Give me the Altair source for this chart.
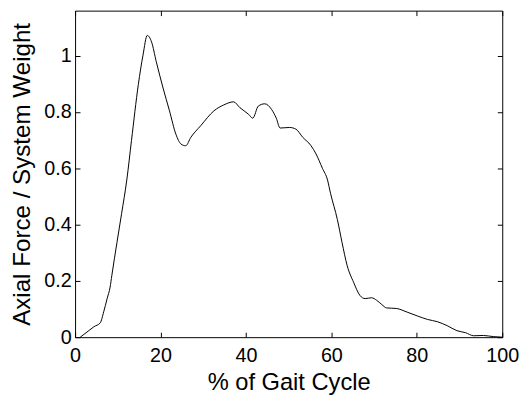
import altair as alt
import pandas as pd

# % of gait cycle (x) and axial force / system weight (y)
gait_pct = [1.2, 3.2, 4.4, 5.9, 6.7, 7.5, 8.2, 8.6, 9.8, 10.9, 12.1, 13.2, 14.8, 15.9,
            16.9, 17.9, 19.0, 20.6, 22.1, 23.6, 24.8, 25.9, 27.1, 29.4, 32.5, 34.8,
            37.1, 38.6, 40.6, 41.6, 42.9, 44.4, 46.0, 47.1, 48.0, 50.2, 51.7, 53.3,
            55.2, 56.4, 57.9, 59.1, 59.8, 61.4, 62.5, 63.7, 65.2, 66.7, 67.9, 69.4,
            70.6, 71.8, 72.9, 75.2, 77.9, 80.2, 82.5, 84.8, 87.1, 89.4, 91.4, 93.3,
            95.6, 97.9, 100.0]
force_ratio = [0.0, 0.023, 0.037, 0.051, 0.09, 0.137, 0.178, 0.219, 0.336, 0.44, 0.558,
               0.698, 0.897, 1.002, 1.072, 1.049, 0.979, 0.885, 0.804, 0.721, 0.686,
               0.68, 0.71, 0.751, 0.804, 0.825, 0.836, 0.815, 0.792, 0.778, 0.821,
               0.829, 0.809, 0.778, 0.743, 0.745, 0.739, 0.71, 0.681, 0.651, 0.60,
               0.558, 0.511, 0.418, 0.336, 0.254, 0.195, 0.148, 0.137, 0.14, 0.131,
               0.116, 0.104, 0.102, 0.088, 0.075, 0.063, 0.055, 0.041, 0.023, 0.016,
               0.005, 0.006, 0.002, 0.0]

x_ticks = [0, 20, 40, 60, 80, 100]
y_ticks = [0, 0.2, 0.4, 0.6, 0.8, 1.0]

W, H = 433, 331
TICK = 5
X_TITLE = "% of Gait Cycle"
Y_TITLE = "Axial Force / System Weight"

df = pd.DataFrame({"pct": gait_pct, "force": force_ratio})

FONT = "Liberation Sans"
# axes pulled inside the frame by the tick length so ticks point inward
inward = dict(grid=False, ticks=True, tickSize=TICK, tickColor="black", tickWidth=1,
              domain=False, offset=-TICK)

x_scale = alt.Scale(domain=[0, 100], nice=False, zero=False)
y_scale = alt.Scale(domain=[0, 1.16], nice=False)

main = alt.Chart(df).mark_line(color="black", strokeWidth=1, interpolate="monotone").encode(
    x=alt.X("pct:Q", scale=x_scale, title=X_TITLE,
            axis=alt.Axis(orient="bottom", values=x_ticks, labelFontSize=20, labelFont=FONT,
                          labelColor="black", labelPadding=25, labelBaseline="alphabetic",
                          labelFlush=False, labelOverlap=False, labelBound=False,
                          titleFontSize=24, titleFont=FONT, titleFontWeight="normal",
                          titleColor="black", titleBaseline="alphabetic", titleY=53 + TICK,
                          **inward)),
    y=alt.Y("force:Q", scale=y_scale, title=Y_TITLE,
            axis=alt.Axis(orient="left", values=y_ticks, format="~g", labelFontSize=20,
                          labelFont=FONT, labelColor="black", labelPadding=4,
                          labelFlush=False, labelOverlap=False, labelBound=False,
                          titleFontSize=24.5, titleFont=FONT, titleFontWeight="normal",
                          titleColor="black", titleBaseline="alphabetic",
                          titleX=-46 - TICK, **inward)),
)

# invisible copy of the curve that only carries the top and right tick axes
frame = alt.Chart(df).mark_line(color="black", strokeWidth=1, strokeOpacity=0).encode(
    x=alt.X("pct:Q", scale=x_scale, title="",
            axis=alt.Axis(orient="top", values=x_ticks, labels=False, **inward)),
    y=alt.Y("force:Q", scale=y_scale, title="",
            axis=alt.Axis(orient="right", values=y_ticks, labels=False, **inward)),
)

chart = (
    alt.layer(main, frame)
    .resolve_axis(x="independent", y="independent")
    .properties(width=W, height=H, autosize=alt.AutoSizeParams(type="none"),
                padding={"left": 68, "top": 0, "right": 18, "bottom": 60})
    .configure_view(stroke="black", strokeWidth=1)
)

chart.save("out.html", embed_options={"renderer": "svg", "actions": False})
